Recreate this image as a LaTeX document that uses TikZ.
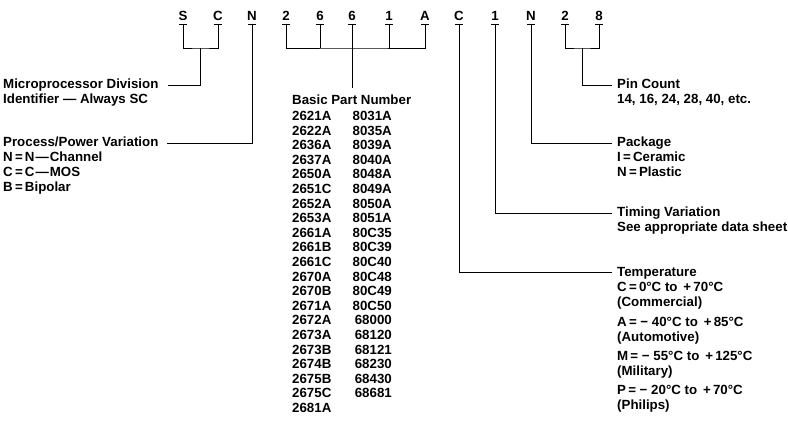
\documentclass[tikz,border=0pt]{standalone}
\usepackage{fontspec}
\setmainfont{Liberation Sans}
\usetikzlibrary{calc}
\newcommand\blk[2][1]{\def\arraystretch{#1}\begin{tabular}[t]{@{}l@{}}#2\end{tabular}}
\newcommand\blkr[2][1]{\def\arraystretch{#1}\begin{tabular}[t]{@{}r@{}}#2\end{tabular}}
\begin{document}
\begin{tikzpicture}[x=1pt,y=-1pt,
  every node/.style={inner sep=0pt, font=\bfseries\fontsize{13.3}{15}\selectfont},
  lbl/.style={anchor=base west},
  chr/.style={anchor=base},
  ln/.style={line width=0.9pt},
]
\useasboundingbox (0,0) rectangle (788,425);
% code letters with ticks
\foreach \n/\x/\t in {S/183/S, Ca/218/C, Na/252/N, da/286/2, db/320/6, dc/352/6, dd/389/1, A/425/A, Cb/459/C, de/495/1, Nb/531/N, df/565/2, dg/599/8} {
  \node[chr] (\n) at (\x,21) {\t};
  \coordinate (t\n) at (\x,24);
  \draw[ln] ([xshift=-4pt]t\n) -- ([xshift=4pt]t\n);
}
% SC bracket
\coordinate (jSC) at (200.5,48);
\coordinate (eMPD) at (168,85);
\draw[ln] (tS) |- (jSC) -| (tCa);
\draw[ln] (jSC) |- (eMPD);
\node[lbl] (mpd) at (3,89) {\blk{Microprocessor Division\\Identifier\ — Always SC}};
% N process
\coordinate (ePP) at (167,143);
\draw[ln] (tNa) |- (ePP);
\node[lbl] (pp) at (3,147) {\blk{Process/Power Variation\\N\,=\,N\kern1pt—\kern1pt Channel\\C\,=\,C\kern1pt—\kern1pt MOS\\B\,=\,Bipolar}};
% basic part number bracket
\coordinate (jBP) at (352,48);
\coordinate (eBP) at (352,88);
\draw[ln] (tda) |- (jBP) -| (tA);
\draw[ln] (tdb) -- (tdb |- jBP);
\draw[ln] (tdd) -- (tdd |- jBP);
\draw[ln] (tdc) -- (eBP);
\node[lbl] (bpn) at (292,105) {Basic Part Number};
\node[lbl] (colA) at (292,120.5) {\blk[0.973]{2621A\\2622A\\2636A\\2637A\\2650A\\2651C\\2652A\\2653A\\2661A\\2661B\\2661C\\2670A\\2670B\\2671A\\2672A\\2673A\\2673B\\2674B\\2675B\\2675C\\2681A}};
\node[anchor=base east] (colB) at (392,120.5) {\blkr[0.973]{8031A\\8035A\\8039A\\8040A\\8048A\\8049A\\8050A\\8051A\\80C35\\80C39\\80C40\\80C48\\80C49\\80C50\\68000\\68120\\68121\\68230\\68430\\68681}};
% temperature
\coordinate (eT) at (612,272);
\draw[ln] (tCb) |- (eT);
\node[lbl] (temp) at (617,276.5) {\blk{Temperature\\C\,=\,0°C to \,+\,70°C\\(Commercial)\\[4.5pt]A\,=\ −\ 40°C to \,+\,85°C\\(Automotive)\\[4.5pt]M\,=\ −\ 55°C to \,+\,125°C\\(Military)\\[4.5pt]P\,=\ −\ 20°C to \,+\,70°C\\(Philips)}};
% timing
\coordinate (eTV) at (612,213);
\draw[ln] (tde) |- (eTV);
\node[lbl] (tv) at (617,217) {\blk{Timing Variation\\See appropriate data sheet}};
% package
\coordinate (ePk) at (612,143);
\draw[ln] (tNb) |- (ePk);
\node[lbl] (pk) at (617,147) {\blk{Package\\I\,=\,Ceramic\\N\,=\,Plastic}};
% pin count
\coordinate (j28) at (582,48);
\coordinate (ePC) at (612,85);
\draw[ln] (tdf) |- (j28) -| (tdg);
\draw[ln] (j28) |- (ePC);
\node[lbl] (pc) at (617,89) {\blk{Pin Count\\14, 16, 24, 28, 40, etc.}};
\end{tikzpicture}
\end{document}
